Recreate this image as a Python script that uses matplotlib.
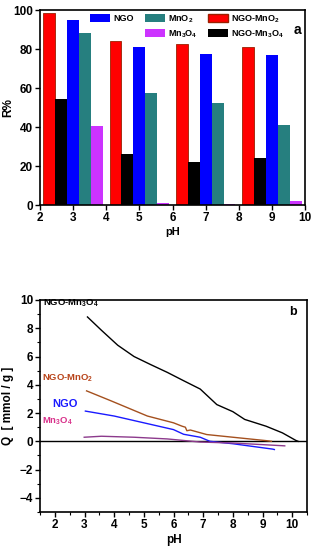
import matplotlib
matplotlib.use("Agg")
import matplotlib.pyplot as plt
import numpy as np
from matplotlib.patches import Patch
from matplotlib.ticker import MultipleLocator

plt.rcParams['font.family'] = ['Liberation Sans', 'DejaVu Sans']
plt.rcParams['font.weight'] = 'bold'
plt.rcParams['mathtext.fontset'] = 'custom'
plt.rcParams['mathtext.rm'] = 'Liberation Sans:bold'
plt.rcParams['mathtext.it'] = 'Liberation Sans:bold'
plt.rcParams['mathtext.bf'] = 'Liberation Sans:bold'
plt.rcParams['mathtext.default'] = 'bf'

# ---- Panel a data ----
ph_groups = [3, 5, 7, 9]
r_ngo_mno2 = [98.5, 84, 82.7, 81]
r_ngo_mn3o4 = [54.5, 26, 22, 24]
r_ngo = [95, 81, 77.5, 77]
r_mno2 = [88.3, 57.3, 52.3, 40.8]
r_mn3o4 = [40.5, 0.8, 0.3, 2.1]

# ---- Panel b data ----
ph_ngo_mn3o4 = [3.1, 3.57, 4.12, 4.67, 5.23, 5.79, 6.34, 6.9, 7.46, 8.0, 8.4, 9.12, 9.67, 10.12, 10.2]
q_ngo_mn3o4 = [8.8, 7.86, 6.8, 6.0, 5.43, 4.88, 4.29, 3.7, 2.6, 2.1, 1.55, 1.07, 0.6, 0.07, 0.0]
ph_ngo_mno2 = [3.07, 3.9, 5.12, 6.0, 6.29, 6.4, 6.45, 6.57, 7.12, 8.0, 9.12, 9.3]
q_ngo_mno2 = [3.57, 2.86, 1.79, 1.31, 1.07, 1.0, 0.75, 0.8, 0.48, 0.29, 0.05, 0.0]
ph_ngo = [3.03, 4.0, 5.0, 6.0, 6.34, 6.9, 7.23, 8.0, 9.34, 9.4]
q_ngo = [2.14, 1.79, 1.31, 0.83, 0.5, 0.29, 0.0, -0.17, -0.55, -0.58]
ph_mn3o4 = [2.99, 3.57, 4.67, 5.79, 6.9, 8.0, 9.67, 9.75]
q_mn3o4 = [0.29, 0.36, 0.29, 0.17, -0.05, -0.12, -0.31, -0.32]

C_RED = '#ff0000'
C_BLACK = '#000000'
C_BLUE = '#0000ff'
C_TEAL = '#267f7f'
C_MAG = '#cc33ff'

fig = plt.figure(figsize=(3.16, 5.5), dpi=100)

W = 265 / 316
ax1 = fig.add_axes([40 / 316, 1 - 205 / 550, W, 195 / 550])
ax2 = fig.add_axes([40 / 316, 1 - 512 / 550, 267 / 316, 212 / 550])

bw = 0.36
x = np.array(ph_groups, dtype=float)
ax1.bar(x - 2 * bw, r_ngo_mno2, bw, color=C_RED, edgecolor='#9a2000', linewidth=0.6)
ax1.bar(x - bw, r_ngo_mn3o4, bw, color=C_BLACK, linewidth=0)
ax1.bar(x, r_ngo, bw, color=C_BLUE, linewidth=0)
ax1.bar(x + bw, r_mno2, bw, color=C_TEAL, linewidth=0)
ax1.bar(x + 2 * bw, r_mn3o4, bw, color=C_MAG, linewidth=0)

ax1.set_xlim(2, 10)
ax1.set_ylim(0, 100)
ax1.set_xticks(range(2, 11))
ax1.set_yticks(range(0, 101, 20))

handles = [
    Patch(facecolor=C_BLUE, label='NGO'),
    Patch(facecolor='none', edgecolor='none', label=' '),
    Patch(facecolor=C_TEAL, label='MnO$_2$'),
    Patch(facecolor=C_MAG, label='Mn$_3$O$_4$'),
    Patch(facecolor=C_RED, edgecolor='#9a2000', label='NGO-MnO$_2$'),
    Patch(facecolor=C_BLACK, label='NGO-Mn$_3$O$_4$'),
]
ax1.legend(handles=handles, ncol=3, loc='upper left', bbox_to_anchor=(0.17, 1.012),
           frameon=False, fontsize=6.5, handlelength=2.2, handleheight=0.9,
           handletextpad=0.35, columnspacing=1.2, labelspacing=0.4, borderaxespad=0.2)
ax1.text(0.97, 0.895, 'a', transform=ax1.transAxes, fontsize=10, fontweight='bold',
         ha='center', va='center')
ax1.set_ylabel('R%', fontsize=8.5, fontweight='bold')
ax1.yaxis.set_label_coords(-0.098, 0.5)
ax1.set_xlabel('pH', fontsize=8, fontweight='bold', labelpad=2)

# ---- Panel b ----
ax2.axhline(0, color='black', linewidth=1.0)
ax2.plot(ph_ngo_mn3o4, q_ngo_mn3o4, color='black', linewidth=1.0)
ax2.plot(ph_ngo_mno2, q_ngo_mno2, color='#a4501e', linewidth=1.0)
ax2.plot(ph_ngo, q_ngo, color='#1a1aff', linewidth=1.0)
ax2.plot(ph_mn3o4, q_mn3o4, color='#8c3a8c', linewidth=1.0)

ax2.set_xlim(1.5, 10.5)
ax2.set_ylim(-5, 10)
ax2.set_xticks(range(2, 11))
ax2.set_yticks(range(-4, 11, 2))
ax2.xaxis.set_minor_locator(MultipleLocator(0.5))
ax2.yaxis.set_minor_locator(MultipleLocator(1))

ax2.text(1.6, 9.75, 'NGO-Mn$_3$O$_4$', fontsize=6.8, color='black', ha='left', va='center')
ax2.text(1.57, 4.43, 'NGO-MnO$_2$', fontsize=6.8, color='#b8441a', ha='left', va='center')
ax2.text(1.9, 2.64, 'NGO', fontsize=8, color='#1a1aff', ha='left', va='center')
ax2.text(1.57, 1.43, 'Mn$_3$O$_4$', fontsize=6.8, color='#d8308a', ha='left', va='center')
ax2.text(0.948, 0.943, 'b', transform=ax2.transAxes, fontsize=9, fontweight='bold',
         ha='center', va='center')
ax2.set_ylabel('Q  [ mmol / g ]', fontsize=8.5, fontweight='bold')
ax2.yaxis.set_label_coords(-0.098, 0.5)
ax2.set_xlabel('pH', fontsize=8.5, fontweight='bold', labelpad=2)

for ax in (ax1, ax2):
    for s in ax.spines.values():
        s.set_linewidth(1.2)
    ax.tick_params(which='major', direction='out', length=3.5, width=1.0,
                   labelsize=8.5, pad=1.5, top=False, right=False)
    ax.tick_params(which='minor', direction='out', length=2, width=0.8,
                   top=False, right=False)
    for lbl in ax.get_xticklabels() + ax.get_yticklabels():
        lbl.set_fontweight('bold')

fig.savefig('out.png', dpi=100)
